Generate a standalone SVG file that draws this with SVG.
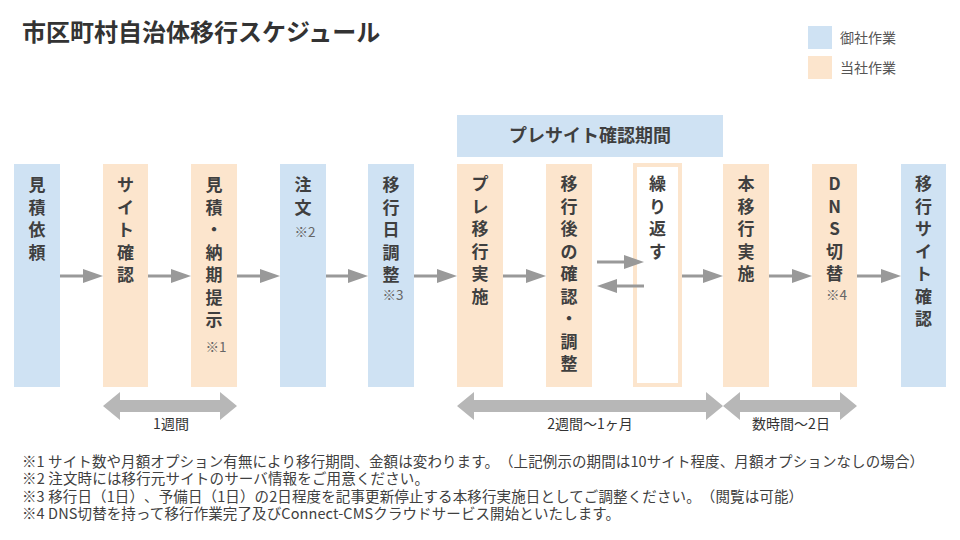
<svg xmlns="http://www.w3.org/2000/svg" width="960" height="540" viewBox="0 0 960 540">
<style>
  text { font-family: "Noto Sans CJK JP", "Noto Sans", sans-serif; text-spacing-trim: space-all; }
  .blue { fill: #cfe2f3; }
  .orange { fill: #fce5cd; }
  .lbl { font-size: 17px; font-weight: bold; fill: #3f3f3f; text-anchor: middle; }
  .note { font-size: 13.5px; fill: #666666; text-anchor: middle; }
  .conn { stroke: #999999; stroke-width: 3; fill: none; }
  .span { fill: #b7b7b7; }
  .spanlbl { font-size: 14px; fill: #333333; text-anchor: middle; }
  .foot { font-size: 14.5px; fill: #404040; }
</style>
<defs>
  <marker id="ah" markerWidth="20" markerHeight="14" refX="10" refY="7" orient="auto" markerUnits="userSpaceOnUse">
    <path d="M0,0 L20,7 L0,14 Z" fill="#999999"/>
  </marker>
</defs>
<rect width="960" height="540" fill="#ffffff"/>

<text x="22" y="41" font-size="24" font-weight="bold" fill="#333333">市区町村自治体移行スケジュール</text>

<g id="legend">
  <rect class="blue" x="808" y="26" width="24" height="23"/>
  <text x="840" y="43" font-size="14" fill="#555555">御社作業</text>
  <rect class="orange" x="808" y="56" width="24" height="23"/>
  <text x="840" y="73" font-size="14" fill="#555555">当社作業</text>
</g>

<g id="presite-period">
  <rect class="blue" x="457" y="115" width="266" height="42"/>
  <text x="590" y="142" font-size="18" font-weight="bold" fill="#3f3f3f" text-anchor="middle">プレサイト確認期間</text>
</g>

<g id="n1">
  <rect class="blue" x="14" y="164" width="46" height="223"/>
  <text class="lbl"><tspan x="37" y="191">見</tspan><tspan x="37" dy="22.5">積</tspan><tspan x="37" dy="22.5">依</tspan><tspan x="37" dy="22.5">頼</tspan></text>
</g>
<g id="n2">
  <rect class="orange" x="103" y="164" width="45" height="223"/>
  <text class="lbl"><tspan x="125.5" y="191">サ</tspan><tspan x="125.5" dy="22.5">イ</tspan><tspan x="125.5" dy="22.5">ト</tspan><tspan x="125.5" dy="22.5">確</tspan><tspan x="125.5" dy="22.5">認</tspan></text>
</g>
<g id="n3">
  <rect class="orange" x="191" y="164" width="46" height="223"/>
  <text class="lbl"><tspan x="214" y="191">見</tspan><tspan x="214" dy="22.5">積</tspan><tspan x="214" dy="22.5">・</tspan><tspan x="214" dy="22.5">納</tspan><tspan x="214" dy="22.5">期</tspan><tspan x="214" dy="22.5">提</tspan><tspan x="214" dy="22.5">示</tspan></text>
  <text class="note" x="216" y="352">※1</text>
</g>
<g id="n4">
  <rect class="blue" x="280" y="164" width="46" height="223"/>
  <text class="lbl"><tspan x="303" y="191">注</tspan><tspan x="303" dy="22.5">文</tspan></text>
  <text class="note" x="305" y="237">※2</text>
</g>
<g id="n5">
  <rect class="blue" x="368" y="164" width="46" height="223"/>
  <text class="lbl"><tspan x="391" y="191">移</tspan><tspan x="391" dy="22.5">行</tspan><tspan x="391" dy="22.5">日</tspan><tspan x="391" dy="22.5">調</tspan><tspan x="391" dy="22.5">整</tspan></text>
  <text class="note" x="393" y="300">※3</text>
</g>
<g id="n6">
  <rect class="orange" x="457" y="164" width="46" height="223"/>
  <text class="lbl"><tspan x="480" y="190">プ</tspan><tspan x="480" dy="22.5">レ</tspan><tspan x="480" dy="22.5">移</tspan><tspan x="480" dy="22.5">行</tspan><tspan x="480" dy="22.5">実</tspan><tspan x="480" dy="22.5">施</tspan></text>
</g>
<g id="n7">
  <rect class="orange" x="546" y="164" width="46" height="223"/>
  <text class="lbl"><tspan x="569" y="190">移</tspan><tspan x="569" dy="22.5">行</tspan><tspan x="569" dy="22.5">後</tspan><tspan x="569" dy="22.5">の</tspan><tspan x="569" dy="22.5">確</tspan><tspan x="569" dy="22.5">認</tspan><tspan x="569" dy="22.5">・</tspan><tspan x="569" dy="22.5">調</tspan><tspan x="569" dy="22.5">整</tspan></text>
</g>
<g id="n8">
  <rect x="635" y="165" width="45" height="220" fill="#ffffff" stroke="#fce5cd" stroke-width="4"/>
  <text class="lbl"><tspan x="657.5" y="190">繰</tspan><tspan x="657.5" dy="22.5">り</tspan><tspan x="657.5" dy="22.5">返</tspan><tspan x="657.5" dy="22.5">す</tspan></text>
</g>
<g id="n9">
  <rect class="orange" x="723" y="164" width="46" height="223"/>
  <text class="lbl"><tspan x="746" y="190">本</tspan><tspan x="746" dy="22.5">移</tspan><tspan x="746" dy="22.5">行</tspan><tspan x="746" dy="22.5">実</tspan><tspan x="746" dy="22.5">施</tspan></text>
</g>
<g id="n10">
  <rect class="orange" x="812" y="164" width="45" height="223"/>
  <text class="lbl"><tspan x="834.5" y="190">D</tspan><tspan x="834.5" dy="22.5">N</tspan><tspan x="834.5" dy="22.5">S</tspan><tspan x="834.5" dy="22.5">切</tspan><tspan x="834.5" dy="22.5">替</tspan></text>
  <text class="note" x="836.5" y="300">※4</text>
</g>
<g id="n11">
  <rect class="blue" x="901" y="164" width="45" height="223"/>
  <text class="lbl"><tspan x="923.5" y="190">移</tspan><tspan x="923.5" dy="22.5">行</tspan><tspan x="923.5" dy="22.5">サ</tspan><tspan x="923.5" dy="22.5">イ</tspan><tspan x="923.5" dy="22.5">ト</tspan><tspan x="923.5" dy="22.5">確</tspan><tspan x="923.5" dy="22.5">認</tspan></text>
</g>

<g id="connectors">
  <line class="conn" x1="60" y1="276" x2="93" y2="276" marker-end="url(#ah)"/>
  <line class="conn" x1="148" y1="276" x2="181" y2="276" marker-end="url(#ah)"/>
  <line class="conn" x1="237" y1="276" x2="270" y2="276" marker-end="url(#ah)"/>
  <line class="conn" x1="326" y1="276" x2="358" y2="276" marker-end="url(#ah)"/>
  <line class="conn" x1="414" y1="276" x2="447" y2="276" marker-end="url(#ah)"/>
  <line class="conn" x1="503" y1="276" x2="536" y2="276" marker-end="url(#ah)"/>
  <line class="conn" x1="597" y1="262" x2="634" y2="262" marker-end="url(#ah)"/>
  <line class="conn" x1="644" y1="286" x2="607" y2="286" marker-end="url(#ah)"/>
  <line class="conn" x1="682" y1="276" x2="713" y2="276" marker-end="url(#ah)"/>
  <line class="conn" x1="769" y1="276" x2="802" y2="276" marker-end="url(#ah)"/>
  <line class="conn" x1="857" y1="276" x2="891" y2="276" marker-end="url(#ah)"/>
</g>

<g id="durations">
  <polygon class="span" points="103,406 120,392 120,400 220,400 220,392 237,406 220,420 220,412 120,412 120,420"/>
  <text class="spanlbl" x="171" y="429">1週間</text>
  <polygon class="span" points="457,406 474,392 474,400 706,400 706,392 723,406 706,420 706,412 474,412 474,420"/>
  <text class="spanlbl" x="590" y="429">2週間～1ヶ月</text>
  <polygon class="span" points="723,406 740,392 740,400 840,400 840,392 857,406 840,420 840,412 740,412 740,420"/>
  <text class="spanlbl" x="791" y="429">数時間～2日</text>
</g>

<g id="footnotes">
  <text class="foot" x="22" y="467" textLength="902">※1 サイト数や月額オプション有無により移行期間、金額は変わります。（上記例示の期間は10サイト程度、月額オプションなしの場合）</text>
  <text class="foot" x="22" y="484" textLength="407">※2 注文時には移行元サイトのサーバ情報をご用意ください。</text>
  <text class="foot" x="22" y="502" textLength="781">※3 移行日（1日）、予備日（1日）の2日程度を記事更新停止する本移行実施日としてご調整ください。（閲覧は可能）</text>
  <text class="foot" x="22" y="519" textLength="598">※4 DNS切替を持って移行作業完了及びConnect-CMSクラウドサービス開始といたします。</text>
</g>
</svg>
